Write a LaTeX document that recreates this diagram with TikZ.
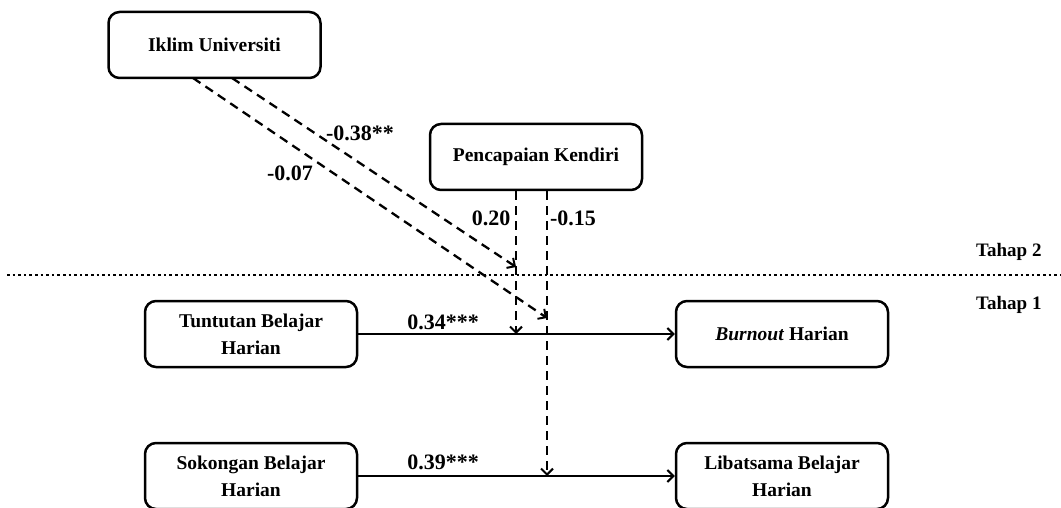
\documentclass[tikz,border=0pt]{standalone}
\usepackage{fontspec}
\setmainfont{Liberation Serif}
\usetikzlibrary{arrows.meta}
\tikzset{
  box/.style={draw, line width=2.5pt, rounded corners=11pt, minimum width=212pt, minimum height=66pt, align=center, inner sep=2pt, font=\fontsize{19.5}{27}\selectfont\bfseries},
  solidarrow/.style={line width=2.3pt, -{Straight Barb[length=6pt,width=12pt,line width=2pt]}},
  dasharrow/.style={line width=2.3pt, dash pattern=on 9pt off 6pt, -{Straight Barb[length=6pt,width=12pt,line width=2pt]}},
  coef/.style={font=\fontsize{22}{24}\selectfont\bfseries, inner sep=0pt},
  stage/.style={font=\fontsize{19}{20}\selectfont\bfseries, inner sep=0pt, anchor=west},
}
\begin{document}
\begin{tikzpicture}[x=1pt,y=-1pt]
\useasboundingbox (0,0) rectangle (1061,508);
% boxes
\node[box] (iu) at (214.5,45) {Iklim Universiti};
\node[box] (pk) at (536,157) {Pencapaian Kendiri};
\node[box] (tb) at (251,334) {Tuntutan Belajar\\Harian};
\node[box] (bh) at (782,334) {\textit{Burnout} Harian};
\node[box] (sb) at (251,476) {Sokongan Belajar\\Harian};
\node[box] (lb) at (782,476) {Libatsama Belajar\\Harian};
% stage separator
\coordinate (sepL) at (7,275);
\coordinate (sepR) at (1061,275);
\draw[line width=2.6pt, dash pattern=on 2.6pt off 3pt] (sepL) -- (sepR);
\node[stage] (t2) at (976,252) {Tahap 2};
\node[stage] (t1) at (976,305) {Tahap 1};
% main paths
\draw[solidarrow] (tb.east) -- (bh.west);
\draw[solidarrow] (sb.east) -- (lb.west);
% moderation points
\coordinate (m1) at (516,334);
\coordinate (m2) at (547,476);
\coordinate (m3) at (516,267);
\coordinate (m4) at (547,318);
\coordinate (s1) at (232,78);
\coordinate (s2) at (193,78);
\draw[dasharrow] (m1 |- pk.south) -- (m1);
\draw[dasharrow] (m2 |- pk.south) -- (m2);
\draw[dasharrow] (s1) -- (m3);
\draw[dasharrow] (s2) -- (m4);
% coefficients
\node[coef] (c1) at (443,322) {0.34***};
\node[coef] (c2) at (443,462) {0.39***};
\node[coef] (c3) at (360,133) {-0.38**};
\node[coef] (c4) at (290,173) {-0.07};
\node[coef] (c5) at (491,218) {0.20};
\node[coef] (c6) at (573,218) {-0.15};
\end{tikzpicture}
\end{document}
